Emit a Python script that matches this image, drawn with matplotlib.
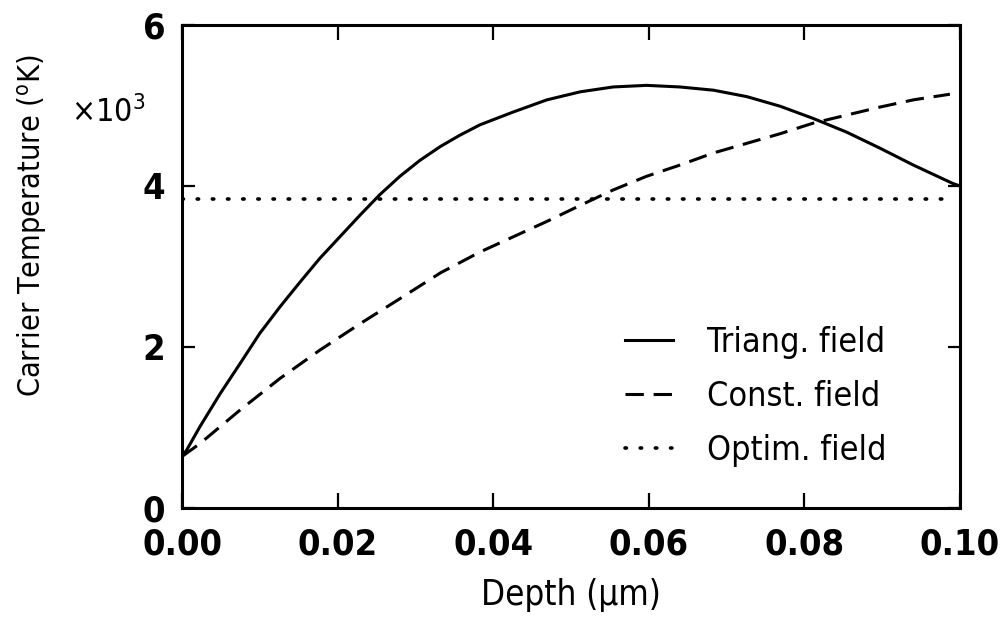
"""
plot.py
Carrier temperature vs depth for three field profiles.
"""

import matplotlib
matplotlib.use("Agg")
import matplotlib.pyplot as plt
import matplotlib.font_manager as fm

# ---------------------------------------------------------------------------
# Data (temperature in units of 10^3 K)
# ---------------------------------------------------------------------------
depth_triang = [0.0, 0.0006, 0.0023, 0.0049, 0.0075, 0.0100, 0.0126, 0.0152,
                0.0177, 0.0203, 0.0229, 0.0254, 0.0280, 0.0306, 0.0332,
                0.0357, 0.0383, 0.0426, 0.0469, 0.0512, 0.0554, 0.0597,
                0.0640, 0.0683, 0.0726, 0.0769, 0.0811, 0.0854, 0.0897,
                0.0940, 0.0991, 0.1000]
temp_triang = [0.64, 0.72, 1.01, 1.42, 1.80, 2.17, 2.50, 2.81,
               3.10, 3.37, 3.64, 3.89, 4.12, 4.32, 4.49,
               4.63, 4.76, 4.92, 5.07, 5.17, 5.23, 5.25,
               5.23, 5.19, 5.11, 4.99, 4.84, 4.67, 4.47,
               4.26, 4.03, 4.00]

depth_const = [0.0, 0.0023, 0.0075, 0.0126, 0.0177, 0.0229, 0.0280, 0.0332,
               0.0383, 0.0426, 0.0469, 0.0512, 0.0554, 0.0597, 0.0640,
               0.0683, 0.0726, 0.0769, 0.0811, 0.0854, 0.0897, 0.0940,
               0.0987]
temp_const = [0.64, 0.80, 1.22, 1.61, 1.96, 2.29, 2.60, 2.92,
              3.18, 3.37, 3.56, 3.76, 3.95, 4.12, 4.26,
              4.41, 4.53, 4.65, 4.78, 4.88, 4.98, 5.07,
              5.14]

depth_optim = [0.0, 0.0987]
temp_optim = [3.84, 3.84]

labels = ["Triang. field", "Const. field", "Optim. field"]
xticks = [0.00, 0.02, 0.04, 0.06, 0.08, 0.10]
yticks = [0, 2, 4, 6]

# ── Font: prefer a narrow sans like the original plot ────────────────────
names = {f.name for f in fm.fontManager.ttflist}
if "Liberation Sans Narrow" in names:
    BASE = "Liberation Sans Narrow"
elif any(f.name == "DejaVu Sans" and str(f.stretch) == "condensed"
         for f in fm.fontManager.ttflist):
    BASE = "DejaVu Sans"
    plt.rcParams["font.stretch"] = "condensed"
else:
    BASE = "Liberation Sans"
plt.rcParams["font.family"] = [BASE, "DejaVu Sans"]
plt.rcParams["mathtext.fontset"] = "custom"
plt.rcParams["mathtext.rm"] = BASE
plt.rcParams["mathtext.it"] = BASE + ":italic"

TICK_FS = 26
LEG_FS = 24.5

# ── Figure layout ────────────────────────────────────────────────────────
fig = plt.figure(figsize=(10.04, 6.23), dpi=100, facecolor="white")
ax = fig.add_axes([0.1813, 0.1846, 0.7749, 0.7753])

ax.plot(depth_triang, temp_triang, color="black", lw=2.2, label=labels[0])
ax.plot(depth_const, temp_const, color="black", lw=2.2,
        dashes=(6, 3.2), label=labels[1])
ax.plot(depth_optim, temp_optim, color="black", lw=2.6,
        dashes=(0.4, 3.8), dash_capstyle="round", label=labels[2])

ax.set_xlim(0, 0.10)
ax.set_ylim(0, 6)
ax.set_xticks(xticks)
ax.set_yticks(yticks)
ax.set_xticklabels([f"{t:.2f}" for t in xticks])
ax.set_yticklabels([str(t) for t in yticks])

for sp in ax.spines.values():
    sp.set_linewidth(2.2)

ax.tick_params(axis="both", direction="in", top=True, right=True,
               width=1.6, labelsize=TICK_FS)
ax.tick_params(axis="x", length=11, pad=14)
ax.tick_params(axis="y", length=9, pad=12)
for lab in ax.get_xticklabels() + ax.get_yticklabels():
    lab.set_fontweight("bold")

ax.set_xlabel("Depth (\u03bcm)", fontsize=25, labelpad=12)

fig.text(32 / 1004, 1 - 226 / 623, r"Carrier Temperature ($^{\rm o}$K)",
         rotation=90, ha="center", va="center", fontsize=22)
fig.text(108 / 1004, 1 - 113 / 623, "\u00d710$^3$",
         ha="center", va="center", fontsize=23)

ax.legend(loc="upper left", frameon=False, fontsize=LEG_FS,
          handlelength=1.4, handletextpad=1.0, labelspacing=0.62,
          borderpad=0, borderaxespad=0,
          bbox_to_anchor=((625 - 182) / 778, (508 - 326) / 483))

plt.savefig("out.png", dpi=100, facecolor="white")
plt.close(fig)
